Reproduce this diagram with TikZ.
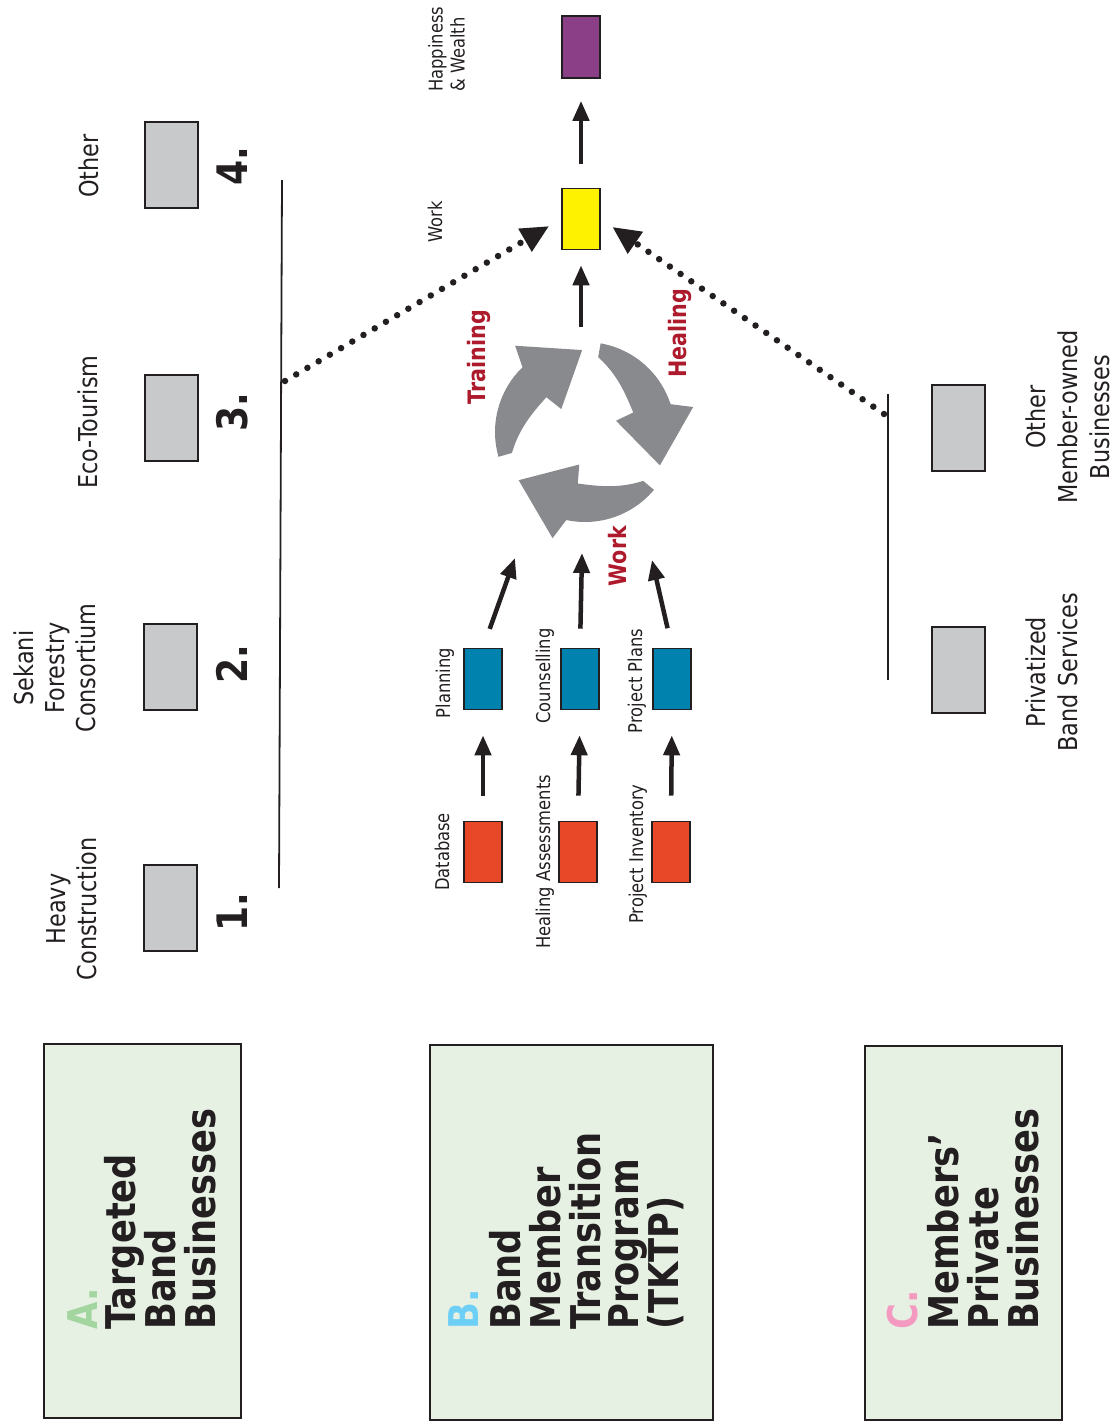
\documentclass[tikz,border=0pt]{standalone}
\usepackage{fontspec}
\setmainfont{DejaVu Sans}[FakeStretch=0.86]
\usetikzlibrary{arrows.meta}
\definecolor{strokec}{HTML}{231F20}
\definecolor{grayc}{HTML}{C8C9CB}
\definecolor{greenc}{HTML}{E6F1E4}
\definecolor{yellowc}{HTML}{FFF200}
\definecolor{purplec}{HTML}{8A3F86}
\definecolor{bluec}{HTML}{0082AE}
\definecolor{redc}{HTML}{E94828}
\definecolor{cycc}{HTML}{898A8D}
\definecolor{wordc}{HTML}{AD1A2C}
\definecolor{letA}{HTML}{A2D5A0}
\definecolor{letB}{HTML}{6DCFF6}
\definecolor{letC}{HTML}{F49AC1}
\newcommand\cycarrow[1]{%
  \pgfmathsetmacro\caA{#1}\pgfmathsetmacro\caB{#1+62}\pgfmathsetmacro\caC{#1+67}%
  \pgfmathsetmacro\caD{#1+104}\pgfmathsetmacro\caE{#1+60}\pgfmathsetmacro\caF{#1+58}%
  \fill[cycc] plot[domain=\caA:\caB,samples=25,variable=\t] (\t:90) -- (\caC:111) -- (\caD:82) -- (\caE:33)
    -- plot[domain=\caF:\caA,samples=30,variable=\t] (\t:{52+24*(1-(\t-\caA)/58)^2}) -- cycle;}
\begin{document}
\begin{tikzpicture}[x=1pt,y=-1pt,
  gbox/.style={draw=strokec, line width=2pt, fill=grayc, minimum width=53pt, minimum height=86pt, inner sep=0pt},
  cbox/.style={draw=strokec, line width=1.6pt, minimum width=38pt, minimum height=61pt, inner sep=0pt},
  bigbox/.style={draw=strokec, line width=2.4pt, fill=greenc, inner sep=0pt},
  big/.style={rotate=90, inner sep=0pt, anchor=base west, font=\fontsize{41}{41}\selectfont\bfseries, text=strokec},
  lbl/.style={rotate=90, inner sep=0pt, align=center, font=\fontsize{26}{31}\selectfont, text=strokec},
  rlbl/.style={rotate=90, inner sep=0pt, align=center, anchor=north, font=\fontsize{26}{32}\selectfont, text=strokec},
  sml/.style={rotate=90, inner sep=0pt, anchor=base, font=\fontsize{19}{22}\selectfont, text=strokec},
  num/.style={rotate=90, inner sep=0pt, anchor=base, font=\fontsize{42}{42}\selectfont\bfseries, text=strokec},
  word/.style={rotate=90, inner sep=0pt, anchor=base, font=\fontsize{24}{24}\selectfont\bfseries, text=wordc},
  arr/.style={line width=4.5pt, draw=strokec, -{Triangle[length=20pt,width=16pt]}},
  darr/.style={line width=6.5pt, draw=strokec, line cap=round, dash pattern=on 0pt off 13pt, -{Triangle[length=28pt,width=25pt]}},
  vline/.style={line width=1.8pt, draw=strokec}]
\useasboundingbox (0,0) rectangle (1115,1421);

% big boxes
\node[bigbox, minimum width=197pt, minimum height=374pt] (boxA) at (142.5,1231) {};
\node[bigbox, minimum width=283pt, minimum height=375pt] (boxB) at (571.5,1232.5) {};
\node[bigbox, minimum width=197pt, minimum height=374pt] (boxC) at (963.5,1233) {};

\node[big, text=letA] (tA0) at (97,1330) {A.};
\node[big] (tA1) at (135,1330) {Targeted};
\node[big] (tA2) at (175,1330) {Band};
\node[big] (tA3) at (215,1330) {Businesses};

\node[big, text=letB] (tB0) at (478,1330) {B.};
\node[big] (tB1) at (520,1330) {Band};
\node[big] (tB2) at (560,1330) {Member};
\node[big] (tB3) at (600,1330) {Transition};
\node[big] (tB4) at (638,1330) {Program};
\node[big] (tB5) at (678,1330) {(TKTP)};

\node[big, text=letC] (tC0) at (917,1330) {C.};
\node[big] (tC1) at (958,1330) {Members’};
\node[big] (tC2) at (998,1330) {Private};
\node[big] (tC3) at (1038,1330) {Businesses};

% row A businesses
\node[gbox] (g1) at (170,908) {};
\node[gbox] (g2) at (170,667) {};
\node[gbox] (g3) at (171,418) {};
\node[gbox] (g4) at (171,165) {};
\node[lbl, anchor=south] (l1) at (97,909) {Heavy\\Construction};
\node[lbl, anchor=south] (l2) at (96,668) {Sekani\\Forestry\\Consortium};
\node[lbl, anchor=south] (l3) at (98,422) {Eco-Tourism};
\node[lbl, anchor=south] (l4) at (99,166) {Other};
\node[num] (n1) at (247,912) {1.};
\node[num] (n2) at (247,664) {2.};
\node[num] (n3) at (247,412) {3.};
\node[num] (n4) at (247,166) {4.};

\coordinate (vAt) at (282,180);
\coordinate (vAb) at (279,888);
\draw[vline] (vAt) -- (vAb);

% row C businesses
\node[gbox] (c1) at (958,428) {};
\node[gbox] (c2) at (958,670) {};
\node[rlbl] (lc1) at (1026,417) {Other\\Member-owned\\Businesses};
\node[rlbl] (lc2) at (1026,672) {Privatized\\Band Services};
\coordinate (vCt) at (888,394);
\coordinate (vCb) at (888,680);
\draw[vline] (vCt) -- (vCb);

% program boxes
\node[cbox, fill=redc] (r1) at (483,852) {};
\node[cbox, fill=redc] (r2) at (578,852) {};
\node[cbox, fill=redc] (r3) at (671,852) {};
\node[cbox, fill=bluec] (b1) at (483,679) {};
\node[cbox, fill=bluec] (b2) at (580,679) {};
\node[cbox, fill=bluec] (b3) at (672,679) {};
\node[cbox, fill=yellowc] (yel) at (581,219) {};
\node[cbox, fill=purplec, minimum height=62pt] (pur) at (581,47) {};

\node[sml] (sr1) at (449,852) {Database};
\node[sml] (sr2) at (550,862) {Healing Assessments};
\node[sml] (sr3) at (643,854) {Project Inventory};
\node[sml] (sb1) at (450,683) {Planning};
\node[sml] (sb2) at (550,676) {Counselling};
\node[sml] (sb3) at (642,681) {Project Plans};
\node[sml] (sw) at (442,222) {Work};
\node[sml, anchor=south west, align=left] (shw) at (465,92) {Happiness\\\& Wealth};

% cycle
\begin{scope}[shift={(585,432)}]
  \cycarrow{164}
  \cycarrow{280}
  \cycarrow{40}
\end{scope}
\node[word] (wt) at (485,357) {Training};
\node[word] (wh) at (686,333) {Healing};
\node[word] (ww) at (626,556) {Work};

\coordinate (cp) at (515,558);
\coordinate (cc) at (582,553);
\coordinate (cq) at (652,560);
\coordinate (ctop) at (581,327);
\coordinate (ls) at (285,381);
\coordinate (rs) at (884,414);

% arrows
\draw[arr, shorten <=25pt, shorten >=25pt] (r1.north) -- (b1.south);
\draw[arr, shorten <=25pt, shorten >=25pt] (r2.north) -- (b2.south);
\draw[arr, shorten <=25pt, shorten >=25pt] (r3.north) -- (b3.south);
\draw[arr, shorten <=20pt] (b1.north) -- (cp);
\draw[arr, shorten <=19pt] (b2.north) -- (cc);
\draw[arr, shorten <=20pt] (b3.north) -- (cq);
\draw[arr, shorten >=15pt] (ctop) -- (yel.south);
\draw[arr, shorten <=24pt, shorten >=22pt] (yel.north) -- (pur.south);
\draw[darr, shorten >=14pt] (ls) -- (yel.west);
\draw[darr, shorten >=14pt] (rs) -- (yel.east);
\end{tikzpicture}
\end{document}
